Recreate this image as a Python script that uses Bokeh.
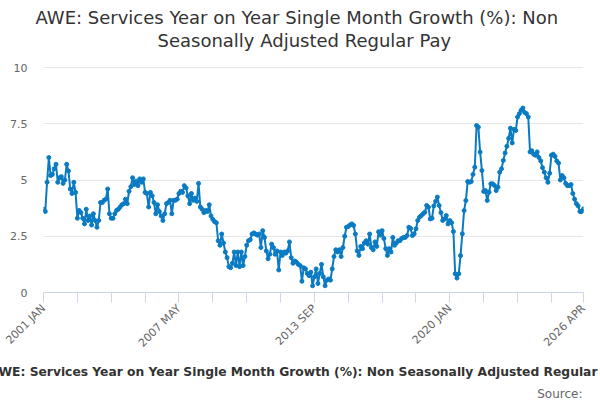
from bokeh.plotting import figure
from bokeh.models import Range1d, FixedTicker, Title, ColumnDataSource, CustomJSTickFormatter
from bokeh.embed import file_html
from bokeh.resources import INLINE
from math import pi

title_line1 = "AWE: Services Year on Year Single Month Growth (%): Non"
title_line2 = "Seasonally Adjusted Regular Pay"
footer_text = "AWE: Services Year on Year Single Month Growth (%): Non Seasonally Adjusted Regular Pay"
source_text = "Source:"

start_year = 2001
month_names = ["JAN", "FEB", "MAR", "APR", "MAY", "JUN", "JUL", "AUG", "SEP", "OCT", "NOV", "DEC"]

# monthly values, 2001 JAN .. 2026 APR
growth = [
    3.7, 3.6, 4.9, 6.0, 5.2, 5.25, 5.5, 5.7, 4.9, 5.1,
    5.15, 4.85, 5.0, 5.7, 5.4, 4.6, 4.4, 4.9, 4.45, 3.3,
    3.65, 3.55, 3.3, 3.05, 3.7, 3.2, 3.4, 3.0, 3.5, 3.2,
    2.9, 3.2, 4.0, 4.0, 4.1, 4.15, 4.6, 3.5, 3.3, 3.3,
    3.5, 3.65, 3.7, 3.8, 3.9, 3.95, 4.15, 3.95, 4.5, 4.7,
    5.1, 4.8, 4.95, 4.75, 5.05, 4.9, 5.05, 4.45, 4.4, 3.8,
    4.45, 4.3, 4.0, 3.5, 3.9, 3.6, 3.4, 3.2, 3.5, 3.95,
    4.0, 4.1, 3.5, 4.1, 4.1, 4.15, 4.4, 4.5, 4.45, 4.75,
    4.65, 4.3, 3.95, 4.4, 4.1, 4.2, 4.05, 4.85, 3.8, 3.7,
    3.55, 3.65, 3.6, 3.9, 3.4, 3.25, 3.15, 3.1, 2.3, 2.1,
    2.6, 2.2, 1.8, 1.55, 1.15, 1.1, 1.3, 1.8, 1.2, 1.8,
    1.15, 1.8, 1.2, 1.6, 2.1, 2.3, 2.35, 2.6, 2.65, 2.6,
    2.55, 2.6, 2.0, 2.75, 2.45, 1.85, 1.5, 1.7, 2.15, 2.0,
    1.7, 1.85, 1.0, 1.8, 1.65, 1.8, 1.75, 1.85, 2.25, 1.55,
    1.3, 1.4, 1.35, 1.25, 1.2, 0.5, 1.1, 1.05, 0.85, 0.75,
    0.9, 0.3, 0.7, 1.05, 0.4, 0.85, 1.25, 0.7, 0.3, 0.55,
    0.6, 0.55, 1.05, 1.6, 1.9, 1.8, 1.9, 1.6, 2.0, 2.5,
    2.9, 2.93, 3.0, 3.05, 2.98, 2.6, 1.85, 1.65, 2.05, 1.95,
    2.2, 2.3, 2.15, 2.6, 2.0, 1.9, 2.25, 2.05, 2.7, 2.55,
    2.75, 2.4, 1.95, 1.65, 1.95, 1.8, 2.45, 2.1, 2.2, 2.3,
    2.3, 2.4, 2.45, 2.45, 2.53, 2.9, 2.85, 2.53, 2.61, 2.83,
    3.2, 3.35, 3.42, 3.5, 3.57, 3.87, 3.79, 3.27, 3.3, 3.85,
    4.05, 4.24, 3.87, 3.55, 3.2, 3.27, 3.42, 3.05, 3.2, 3.1,
    2.71, 0.83, 0.64, 0.83, 1.64, 2.61, 3.64, 4.09, 4.93, 4.9,
    4.93, 5.25, 5.57, 7.42, 7.35, 6.24, 5.42, 4.49, 4.53, 4.09,
    4.46, 4.83, 4.83, 4.76, 4.53, 4.68, 5.35, 5.5, 5.87, 6.2,
    6.5, 6.85, 7.3, 6.65, 7.25, 7.2, 7.8, 7.95, 8.1, 8.2,
    8.0, 7.95, 7.8, 6.25, 6.3, 6.15, 6.1, 6.25, 6.0, 5.85,
    5.55, 5.35, 5.1, 4.9, 5.3, 6.1, 6.15, 6.05, 5.85, 5.75,
    5.0, 5.2, 5.1, 4.85, 4.75, 4.75, 4.8, 4.4, 4.15, 3.95,
    3.85, 3.6, 3.6, 3.72,
]

y_ticks = [0, 2.5, 5, 7.5, 10]
y_axis_max = 10
tick_step = 19
label_step = 76

n = len(growth)
idx = list(range(n))
month_labels = [f"{start_year + i // 12} {month_names[i % 12]}" for i in idx]

x_ticks = list(range(0, n, tick_step))
if x_ticks[-1] != n - 1:
    x_ticks.append(n - 1)
overrides = {}
for t in x_ticks:
    overrides[t] = month_labels[t] if (t % label_step == 0 or t == n - 1) else ""

FONT = "DejaVu Sans"
LINE_COLOR = "#0a7bc2"

# layout geometry (pixels): plot frame spans from FRAME_TOP to FRAME_BOTTOM,
# while the value 10 must sit at GRID_TOP
W, H = 600, 400
LEFT, RIGHT = 43, 17
FRAME_TOP, GRID_TOP, FRAME_BOTTOM = 50, 67, 292
px_per_unit = (FRAME_BOTTOM - GRID_TOP) / y_axis_max
y_top = (FRAME_BOTTOM - FRAME_TOP) / px_per_unit

p = figure(width=W, height=H, x_range=Range1d(0, n - 1), y_range=Range1d(0, y_top),
           output_backend="svg", toolbar_location=None,
           min_border_left=LEFT, min_border_right=RIGHT, min_border_top=FRAME_TOP,
           min_border_bottom=H - FRAME_BOTTOM,
           outline_line_color=None, background_fill_color="white", border_fill_color="white")

# the plot's own title is the outer (first) line; the added Title sits nearest the plot
p.title.text = title_line1
p.title.align = "left"
p.title.offset = -8
p.title.text_font = FONT
p.title.text_font_size = "18px"
p.title.text_font_style = "normal"
p.title.text_color = "#333333"
p.title.standoff = 0

t2 = Title(text=title_line2, align="left", offset=114, text_font=FONT, text_font_size="18px",
           text_font_style="normal", text_color="#333333", standoff=0)
p.add_layout(t2, "above")

p.xgrid.visible = False
p.ygrid.ticker = FixedTicker(ticks=y_ticks)
p.ygrid.grid_line_color = "#e6e6e6"
p.ygrid.grid_line_width = 1

ya = p.yaxis[0]
ya.ticker = FixedTicker(ticks=y_ticks)
ya.formatter = CustomJSTickFormatter(code="return String(tick)")
ya.axis_line_color = None
ya.major_tick_line_color = None
ya.minor_tick_line_color = None
ya.major_tick_out = 0
ya.major_tick_in = 0
ya.major_label_standoff = 16
ya.major_label_text_font = FONT
ya.major_label_text_font_size = "11px"
ya.major_label_text_color = "#666666"

xa = p.xaxis[0]
xa.ticker = FixedTicker(ticks=x_ticks)
xa.major_label_overrides = overrides
xa.axis_line_color = "#ccd6eb"
xa.major_tick_line_color = "#ccd6eb"
xa.minor_tick_line_color = None
xa.major_tick_out = 10
xa.major_tick_in = 0
xa.major_label_orientation = pi / 4
xa.major_label_standoff = 4
xa.major_label_text_font = FONT
xa.major_label_text_font_size = "11px"
xa.major_label_text_color = "#666666"

src = ColumnDataSource(dict(x=idx, y=growth, month=month_labels))
p.line("x", "y", source=src, line_color=LINE_COLOR, line_width=2)
p.scatter("x", "y", source=src, size=4, fill_color=LINE_COLOR, line_color=LINE_COLOR)

footer = Title(text=footer_text, align="left", offset=-54, text_font=FONT,
               text_font_size="12.3px", text_font_style="bold", text_color="#333333", standoff=11)
p.add_layout(footer, "below")
source = Title(text=source_text, align="right", offset=1, text_font=FONT,
               text_font_size="12px", text_font_style="normal", text_color="#666666", standoff=0)
p.add_layout(source, "below")

open("out.html", "w").write(file_html(p, INLINE))
